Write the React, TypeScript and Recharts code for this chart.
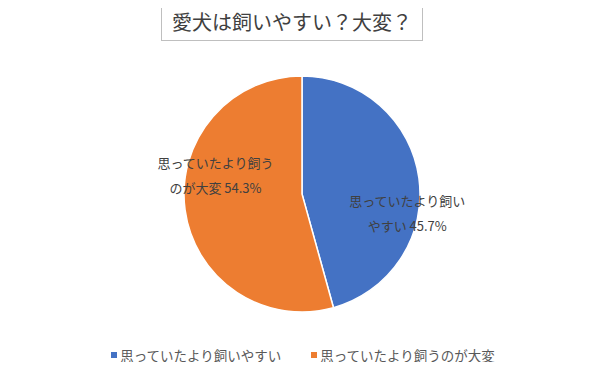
import React from 'react'
import { PieChart, Pie, Cell, Legend } from 'recharts'

const chartTitle = '愛犬は飼いやすい？大変？'
const categories = ['思っていたより飼いやすい', '思っていたより飼うのが大変']
const labelLines = [
  ['思っていたより飼い', 'やすい'],
  ['思っていたより飼う', 'のが大変'],
]
const shares = [45.7, 54.3]
const colors = ['#4472C4', '#ED7D31']

const data = categories.map((name, i) => ({ name, value: shares[i] }))

const FONT = '"Noto Sans CJK JP", "Noto Sans", sans-serif'

const renderLabel = ({ cx, cy, midAngle, outerRadius, index, value }: any) => {
  const RADIAN = Math.PI / 180
  const cos = Math.cos(-midAngle * RADIAN)
  const r = outerRadius * (cos > 0 ? 0.9 : 0.74)
  const x = cx + r * cos
  const y = cy + r * Math.sin(-midAngle * RADIAN) + (cos > 0 ? 32 : -32)
  const lines = labelLines[index]
  return (
    <text x={x} y={y} fill="#404040" fontSize={13} fontFamily={FONT} textAnchor="middle">
      <tspan x={x} dy={-6}>{lines[0]}</tspan>
      <tspan x={x} dy={25}>{`${lines[1]} ${value.toFixed(1)}%`}</tspan>
    </text>
  )
}

const renderLegend = () => (
  <div style={{ display: 'flex', justifyContent: 'center', gap: 30, fontFamily: FONT, fontSize: 13.5, color: '#595959', paddingLeft: 6 }}>
    {categories.map((c, i) => (
      <div key={c} style={{ display: 'flex', alignItems: 'center' }}>
        <span style={{ width: 6, height: 6, background: colors[i], display: 'inline-block', marginRight: 3 }} />
        <span>{c}</span>
      </div>
    ))}
  </div>
)

export default function App() {
  return (
    <div style={{ position: 'relative', width: 600, height: 370, margin: -8, background: '#fff', overflow: 'hidden' }}>
      <PieChart width={600} height={370} margin={{ top: 0, right: 0, bottom: 0, left: 0 }}>
        <Pie
          data={data}
          dataKey="value"
          cx={302}
          cy={194}
          outerRadius={118}
          startAngle={90}
          endAngle={-270}
          stroke="#ffffff"
          strokeWidth={1.5}
          labelLine={false}
          label={renderLabel}
          isAnimationActive={false}
        >
          {data.map((d, i) => (
            <Cell key={d.name} fill={colors[i]} />
          ))}
        </Pie>
        <Legend content={renderLegend} verticalAlign="bottom" wrapperStyle={{ bottom: 5 }} />
      </PieChart>
      <div
        style={{
          position: 'absolute',
          zIndex: 10,
          left: 161,
          top: 2,
          width: 262,
          height: 39,
          border: '1px solid #BFBFBF',
          background: '#fff',
          fontFamily: FONT,
          fontSize: 20,
          color: '#404040',
          display: 'flex',
          alignItems: 'center',
          justifyContent: 'center',
          boxSizing: 'border-box',
          whiteSpace: 'nowrap',
        }}
      >
        {chartTitle}
      </div>
    </div>
  )
}
